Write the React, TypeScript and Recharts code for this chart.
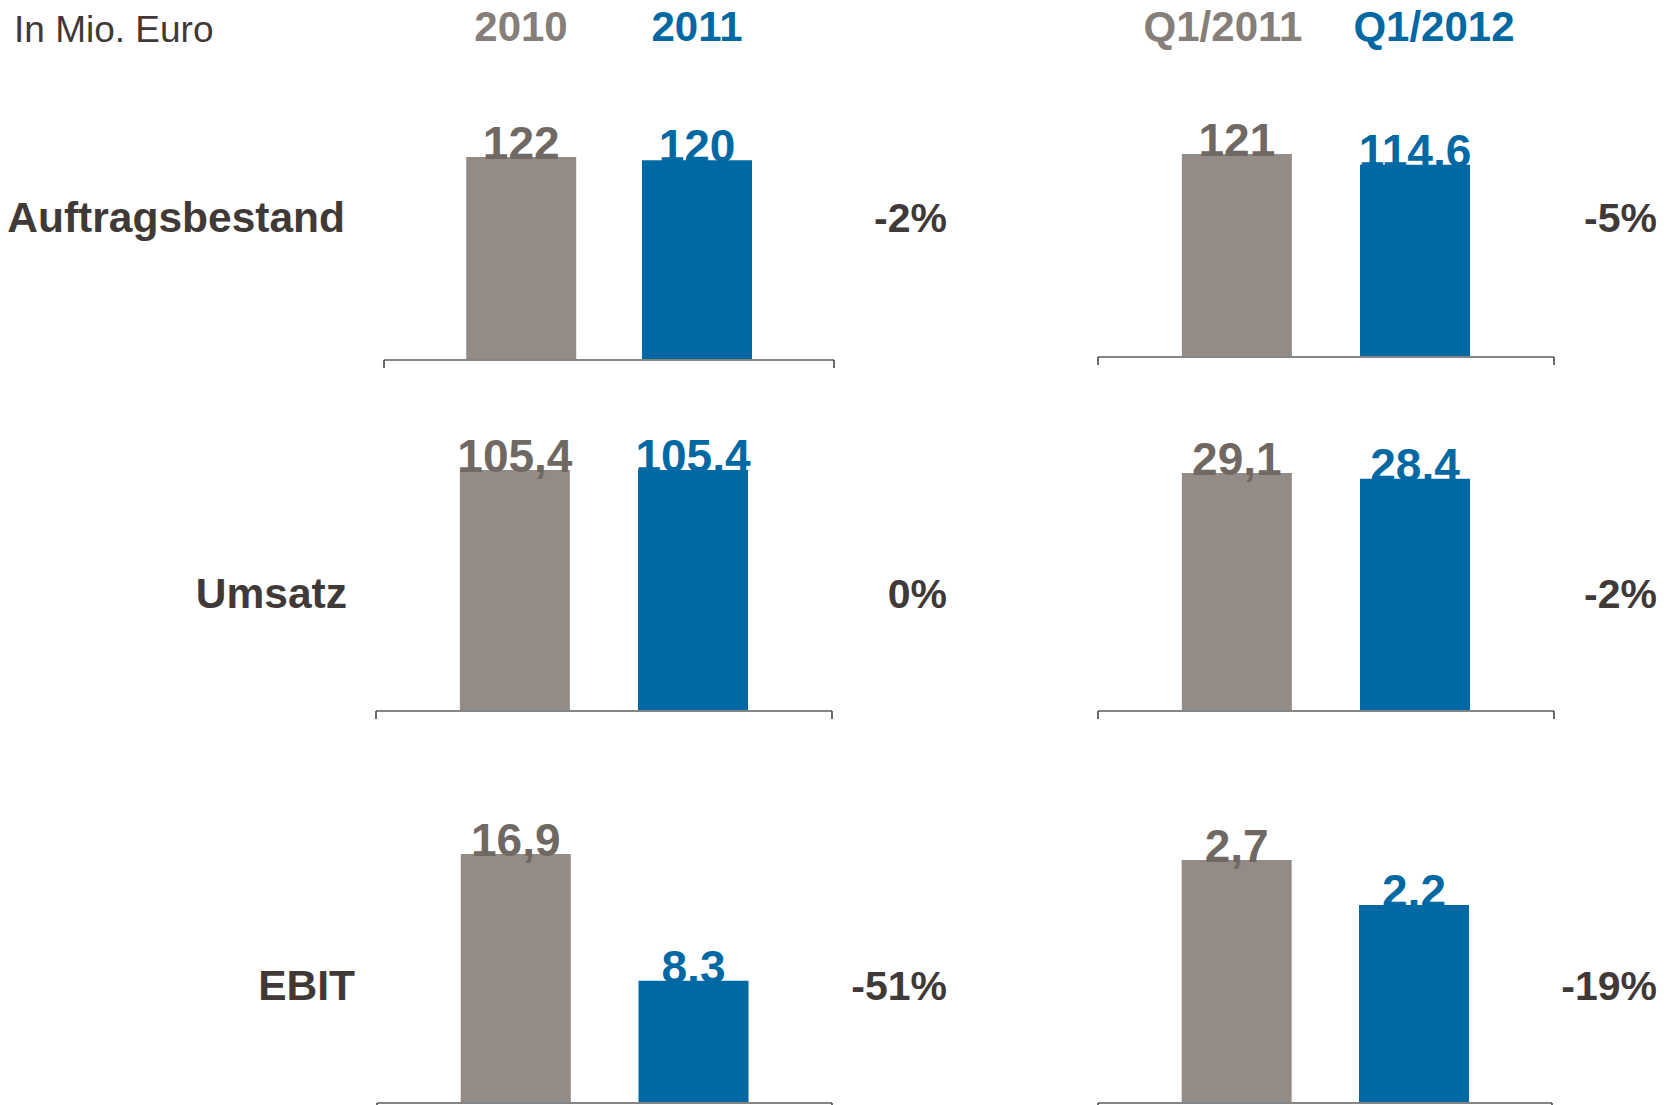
import { Bar, BarChart, Cell, LabelList, XAxis, YAxis } from "recharts"

const metrics = ["Auftragsbestand", "Umsatz", "EBIT"]
const yearPeriods = ["2010", "2011"]
const quarterPeriods = ["Q1/2011", "Q1/2012"]
const values2010 = [122, 105.4, 16.9]
const values2011 = [120, 105.4, 8.3]
const valuesQ1_2011 = [121, 29.1, 2.7]
const valuesQ1_2012 = [114.6, 28.4, 2.2]
const yearChange = ["-2%", "0%", "-51%"]
const quarterChange = ["-5%", "-2%", "-19%"]

const GRAY = "#938b85"
const GRAY_TEXT = "#6f6863"
const HEAD_GRAY = "#857e79"
const BLUE = "#0068a3"
const DARK = "#3f3a37"
const FONT = "'Liberation Sans', Arial, Helvetica, sans-serif"

// x domain: bars sit at 0 and 1, the axis runs a bit past them on both sides
const LO = -0.78
const HI = 1.78
const TOP = 60

// layout of the 3 rows: [year panel, quarter panel]
const rows = [
  { left: [384, 1098], width: [450, 456], axisY: [360, 357], plotH: [203, 203], baseline: 232, labelEnd: 345 },
  { left: [376, 1098], width: [456, 456], axisY: [711, 711], plotH: [241, 238], baseline: 608, labelEnd: 347 },
  { left: [377, 1098], width: [455, 454], axisY: [1103, 1103], plotH: [249, 243], baseline: 1000, labelEnd: 355 },
]

const renderValueLabel = (p: any) => {
  const x = Number(p.x) + Number(p.width) / 2
  const y = Number(p.y) + 2
  return (
    <text
      x={x}
      y={y}
      textAnchor="middle"
      fontFamily={FONT}
      fontWeight="bold"
      fontSize={46}
      fill={p.index === 0 ? GRAY_TEXT : BLUE}
    >
      {String(p.value).replace(".", ",")}
    </text>
  )
}

// end ticks only, no tick text
const noTickText = () => <g />

function Panel(props: {
  left: number
  axisY: number
  width: number
  plotH: number
  periods: string[]
  values: number[]
}) {
  const data = props.periods.map((p, i) => ({ period: p, i, value: props.values[i] }))
  const max = Math.max(...props.values)
  return (
    <div
      style={{
        position: "absolute",
        left: props.left - 2,
        top: props.axisY - props.plotH - TOP,
      }}
    >
      <BarChart
        width={props.width + 4}
        height={TOP + props.plotH + 12}
        data={data}
        margin={{ top: TOP, right: 2, bottom: 0, left: 2 }}
      >
        <XAxis
          type="number"
          dataKey="i"
          domain={[LO, HI]}
          ticks={[LO, HI]}
          interval={0}
          tick={noTickText}
          tickSize={8}
          height={12}
          axisLine={{ stroke: "#858585", strokeWidth: 2 }}
          tickLine={{ stroke: "#3a3a3a", strokeWidth: 1.5 }}
          allowDataOverflow
        />
        <YAxis hide domain={[0, max]} />
        <Bar dataKey="value" barSize={110} isAnimationActive={false}>
          {data.map((d, i) => (
            <Cell key={d.period} fill={i === 0 ? GRAY : BLUE} />
          ))}
          <LabelList dataKey="value" content={renderValueLabel} />
        </Bar>
      </BarChart>
    </div>
  )
}

export default function App() {
  const yearSets = [values2010, values2011]
  const quarterSets = [valuesQ1_2011, valuesQ1_2012]
  return (
    <div
      style={{
        position: "absolute",
        left: 0,
        top: 0,
        width: 1670,
        height: 1105,
        overflow: "hidden",
        background: "#fff",
        fontFamily: FONT,
      }}
    >
      {rows.map((r, ri) => (
        <div key={metrics[ri]}>
          <Panel
            left={r.left[0]}
            axisY={r.axisY[0]}
            width={r.width[0]}
            plotH={r.plotH[0]}
            periods={yearPeriods}
            values={yearSets.map((s) => s[ri])}
          />
          <Panel
            left={r.left[1]}
            axisY={r.axisY[1]}
            width={r.width[1]}
            plotH={r.plotH[1]}
            periods={quarterPeriods}
            values={quarterSets.map((s) => s[ri])}
          />
        </div>
      ))}
      <svg
        width={1670}
        height={1105}
        style={{ position: "absolute", left: 0, top: 0, pointerEvents: "none" }}
        fontFamily={FONT}
      >
        <text x={14} y={42} fontSize={37} fill={DARK}>
          In Mio. Euro
        </text>
        <text x={521} y={41} fontSize={42} fontWeight="bold" textAnchor="middle" fill={HEAD_GRAY}>
          {yearPeriods[0]}
        </text>
        <text x={697} y={41} fontSize={42} fontWeight="bold" textAnchor="middle" fill={BLUE}>
          {yearPeriods[1]}
        </text>
        <text x={1223} y={41} fontSize={42} fontWeight="bold" textAnchor="middle" fill={HEAD_GRAY}>
          {quarterPeriods[0]}
        </text>
        <text x={1434} y={41} fontSize={42} fontWeight="bold" textAnchor="middle" fill={BLUE}>
          {quarterPeriods[1]}
        </text>
        {rows.map((r, ri) => (
          <g key={metrics[ri]} fontWeight="bold" fill={DARK} textAnchor="end">
            <text x={r.labelEnd} y={r.baseline} fontSize={42.5}>
              {metrics[ri]}
            </text>
            <text x={947} y={r.baseline} fontSize={41}>
              {yearChange[ri]}
            </text>
            <text x={1657} y={r.baseline} fontSize={41}>
              {quarterChange[ri]}
            </text>
          </g>
        ))}
      </svg>
    </div>
  )
}
